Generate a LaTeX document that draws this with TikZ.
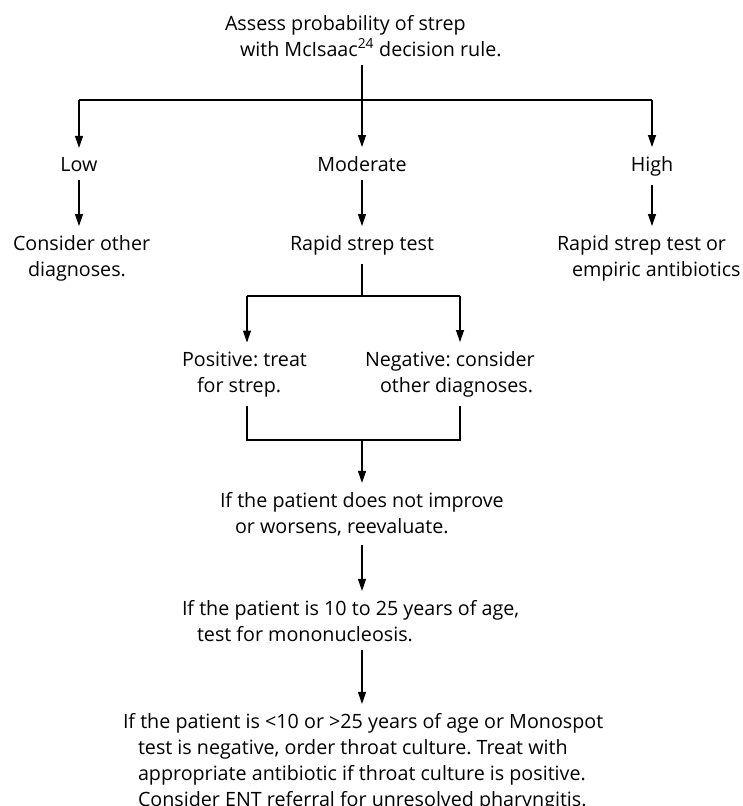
\documentclass[tikz,border=0pt]{standalone}
\usepackage{fontspec}
\setmainfont{Open Sans}
\usetikzlibrary{arrows.meta}
\frenchspacing
\newcommand{\ind}{\hspace*{15pt}}

\begin{document}
\begin{tikzpicture}[x=1pt, y=-1pt,
          link/.style ={line width = 1.2pt},
          linkarrow/.style ={line width = 1.2pt, -{Triangle[length=12pt, width=8pt]}},
          txt/.style ={font=\fontsize{19.7}{26}\selectfont, inner sep=0pt, outer xsep=0pt, outer ysep=9pt, align=left}
          ]
\useasboundingbox (0,0) rectangle (742,806);

% texts (base = last line)
\node[txt, anchor=base west] (assess) at (225,56) {Assess probability of strep\\\ind with McIsaac\textsuperscript{24} decision rule.};
\node[txt, anchor=base] (low) at (79,171) {Low};
\node[txt, anchor=base] (moderate) at (362,171) {Moderate};
\node[txt, anchor=base] (high) at (652,171) {High};
\node[txt, anchor=base west] (consider) at (13,276) {Consider other\\\ind diagnoses.};
\node[txt, anchor=base] (rapid) at (362,250) {Rapid strep test};
\node[txt, anchor=base west] (empiric) at (557,276) {Rapid strep test or\\\ind empiric antibiotics};
\node[txt, anchor=base west] (positive) at (182,392) {Positive: treat\\\ind for strep.};
\node[txt, anchor=base west] (negative) at (365,392) {Negative: consider\\\ind other diagnoses.};
\node[txt, anchor=base west] (improve) at (220,533) {If the patient does not improve\\\ind or worsens, reevaluate.};
\node[txt, anchor=base west] (age) at (182,641) {If the patient is 10 to 25 years of age,\\\ind test for mononucleosis.};
\node[txt, anchor=base west] (culture) at (123,806) {If the patient is <10 or >25 years of age or Monospot\\\ind test is negative, order throat culture. Treat with\\\ind appropriate antibiotic if throat culture is positive.\\\ind Consider ENT referral for unresolved pharyngitis.};

% junctions
\coordinate (split) at (362,100);
\coordinate (lowj) at (79,100);
\coordinate (highj) at (652,100);
\coordinate (testsplit) at (362,296);
\coordinate (posj) at (247,296);
\coordinate (negj) at (460,296);
\coordinate (posk) at (247,440);
\coordinate (negk) at (460,440);
\coordinate (merge) at (362,440);

% connectors
\draw[link] (split |- assess.south) -- (split);
\draw[link] (lowj) -- (highj);
\draw[linkarrow] (lowj) -- (low);
\draw[linkarrow] (split) -- (moderate);
\draw[linkarrow] (highj) -- (high);
\draw[linkarrow] (low) -- (low |- consider.north);
\draw[linkarrow] (moderate) -- (rapid);
\draw[linkarrow] (high) -- (high |- empiric.north);
\draw[link] (rapid) -- (testsplit);
\draw[link] (posj) -- (negj);
\draw[linkarrow] (posj) -- (posj |- positive.north);
\draw[linkarrow] (negj) -- (negj |- negative.north);
\draw[link] (posj |- positive.south) -- (posk) -- (negk) -- (negj |- negative.south);
\draw[linkarrow] (merge) -- (merge |- improve.north);
\draw[linkarrow] (merge |- improve.south) -- (merge |- age.north);
\draw[linkarrow] (merge |- age.south) -- (merge |- culture.north);
\end{tikzpicture}
\end{document}
